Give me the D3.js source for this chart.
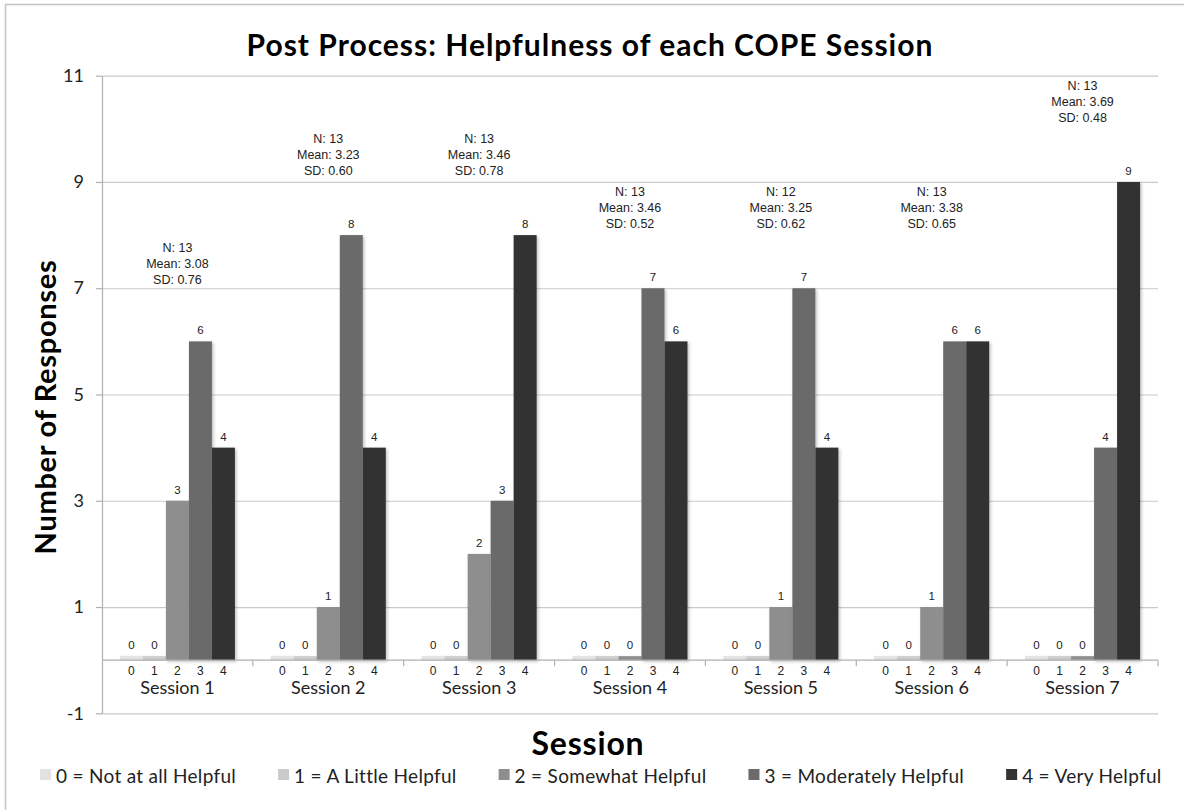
<!DOCTYPE html>
<html>
<head>
<meta charset="utf-8">
<script src="https://cdn.jsdelivr.net/npm/d3@7"></script>
<style>
  body { margin: 0; background: #fff; }
  svg { display: block; }
</style>
</head>
<body>
<div id="viz"></div>
<script>
var w = 1184;
var h = 810;

// data
var sessions = ["Session 1", "Session 2", "Session 3", "Session 4", "Session 5", "Session 6", "Session 7"];
var levels = ["0", "1", "2", "3", "4"];
var levelNames = ["0 = Not at all Helpful", "1 = A Little Helpful", "2 = Somewhat Helpful", "3 = Moderately Helpful", "4 = Very Helpful"];
var counts = [
  [0, 0, 3, 6, 4],
  [0, 0, 1, 8, 4],
  [0, 0, 2, 3, 8],
  [0, 0, 0, 7, 6],
  [0, 0, 1, 7, 4],
  [0, 0, 1, 6, 6],
  [0, 0, 0, 4, 9]
];
var nResp = [13, 13, 13, 13, 12, 13, 13];
var means = ["3.08", "3.23", "3.46", "3.46", "3.25", "3.38", "3.69"];
var sds = ["0.76", "0.60", "0.78", "0.52", "0.62", "0.65", "0.48"];
// value level where the stats box sits (bottom line)
var statLevel = [7.15, 9.2, 9.2, 8.2, 8.2, 8.2, 10.2];
var yTicks = [-1, 1, 3, 5, 7, 9, 11];

var colors = ["#e2e2e2", "#cbcbcb", "#8e8e8e", "#6b6b6b", "#333333"];

var calibri = "Lato, 'Open Sans', sans-serif";
var helv = "'Liberation Sans', Arial, sans-serif";

var mLeft = 102, mRight = 1158, mTop = 75.7, mBottom = 713.3;

var svg = d3.select("#viz")
    .append("svg")
    .attr("width", w)
    .attr("height", h);

var defs = svg.append("defs");
var f = defs.append("filter").attr("id", "shadow")
    .attr("x", "-20%").attr("y", "-5%").attr("width", "150%").attr("height", "120%");
f.append("feDropShadow").attr("dx", 1.5).attr("dy", 1.5)
    .attr("stdDeviation", 1.5).attr("flood-color", "#000").attr("flood-opacity", 0.25);

// outer frame
svg.append("rect")
    .attr("x", 5.5).attr("y", 4.5)
    .attr("width", 1185).attr("height", 830)
    .attr("fill", "none").attr("stroke", "#c4c4c4").attr("stroke-width", 1.5);

var x0 = d3.scaleBand().domain(sessions).range([mLeft, mRight]);
var x1 = d3.scaleBand().domain(levels).range([0, x0.bandwidth()]).paddingOuter(0.78);
var y = d3.scaleLinear().domain([-1, 11]).range([mBottom, mTop]);

// gridlines
svg.append("g")
    .attr("transform", "translate(" + mLeft + ",0)")
    .call(d3.axisLeft(y).tickValues(yTicks).tickSize(-(mRight - mLeft)).tickFormat(""))
    .call(function(g) {
      g.select(".domain").remove();
      g.selectAll("line").attr("stroke", "#cacaca").attr("stroke-width", 1.2);
    });

// y axis
svg.append("g")
    .attr("transform", "translate(" + mLeft + ",0)")
    .call(d3.axisLeft(y).tickValues(yTicks).tickFormat(String).tickSize(6).tickSizeOuter(0).tickPadding(12))
    .call(function(g) {
      g.select(".domain").attr("stroke", "#b0b0b0").attr("stroke-width", 1.2);
      g.selectAll("line").attr("stroke", "#b0b0b0").attr("stroke-width", 1.2);
      g.selectAll("text").attr("font-family", calibri).attr("font-size", 18).attr("fill", "#222");
    });

// bars
var groups = svg.append("g").selectAll("g")
    .data(counts)
    .enter()
    .append("g")
    .attr("transform", function(d, i) { return "translate(" + x0(sessions[i]) + ",0)"; });

groups.selectAll("rect")
    .data(function(d) { return d; })
    .enter()
    .append("rect")
    .attr("x", function(d, i) { return x1(levels[i]); })
    .attr("width", x1.bandwidth())
    .attr("y", function(d) { return Math.min(y(d), y(0) - 4); })
    .attr("height", function(d) { return Math.max(y(0) - y(d), 4); })
    .attr("fill", function(d, i) { return colors[i]; })
    .attr("filter", "url(#shadow)");

// value labels
groups.selectAll("text.val")
    .data(function(d) { return d; })
    .enter()
    .append("text")
    .attr("class", "val")
    .attr("x", function(d, i) { return x1(levels[i]) + x1.bandwidth() / 2; })
    .attr("y", function(d) { return Math.min(y(d), y(0) - 4) - 7; })
    .attr("text-anchor", "middle")
    .attr("font-family", helv).attr("font-size", 11.5).attr("fill", "#222")
    .text(function(d) { return d; });

// level labels under the axis
groups.selectAll("text.lvl")
    .data(levels)
    .enter()
    .append("text")
    .attr("class", "lvl")
    .attr("x", function(d) { return x1(d) + x1.bandwidth() / 2; })
    .attr("y", y(0) + 15)
    .attr("text-anchor", "middle")
    .attr("font-family", helv).attr("font-size", 12).attr("fill", "#222")
    .text(function(d) { return d; });

groups.append("text")
    .attr("x", x0.bandwidth() / 2)
    .attr("y", y(0) + 34)
    .attr("text-anchor", "middle")
    .attr("font-family", calibri).attr("font-size", 18).attr("fill", "#222")
    .text(function(d, i) { return sessions[i]; });

// stats
groups.each(function(d, i) {
  var t = d3.select(this).append("text")
      .attr("text-anchor", "middle")
      .attr("font-family", helv).attr("font-size", 12.5).attr("fill", "#222");
  var lines = ["N: " + nResp[i], "Mean: " + means[i], "SD: " + sds[i]];
  lines.forEach(function(s, k) {
    t.append("tspan")
        .attr("x", x0.bandwidth() / 2)
        .attr("y", y(statLevel[i]) - (2 - k) * 16 + 4)
        .text(s);
  });
});

// x axis line at 0 with ticks between sessions
svg.append("line")
    .attr("x1", mLeft).attr("x2", mRight)
    .attr("y1", y(0)).attr("y2", y(0))
    .attr("stroke", "#b0b0b0").attr("stroke-width", 1.2);

svg.append("g").selectAll("line")
    .data(sessions.slice(1).concat(["end"]))
    .enter()
    .append("line")
    .attr("x1", function(d) { return d === "end" ? mRight : x0(d); })
    .attr("x2", function(d) { return d === "end" ? mRight : x0(d); })
    .attr("y1", y(0)).attr("y2", y(0) + 6)
    .attr("stroke", "#b0b0b0").attr("stroke-width", 1.2);

// title
svg.append("text")
    .attr("x", 590).attr("y", 56)
    .attr("text-anchor", "middle")
    .attr("font-family", calibri).attr("font-weight", "bold").attr("font-size", 30)
    .attr("letter-spacing", 1)
    .attr("fill", "#000")
    .text("Post Process: Helpfulness of each COPE Session");

// axis titles
svg.append("text")
    .attr("transform", "translate(56,407) rotate(-90)")
    .attr("text-anchor", "middle")
    .attr("font-family", calibri).attr("font-weight", "bold").attr("font-size", 29)
    .attr("letter-spacing", 0.7)
    .attr("fill", "#000")
    .text("Number of Responses");

svg.append("text")
    .attr("x", 588).attr("y", 755)
    .attr("text-anchor", "middle")
    .attr("font-family", calibri).attr("font-weight", "bold").attr("font-size", 32)
    .attr("letter-spacing", 0.8)
    .attr("fill", "#000")
    .text("Session");

// legend
var legend = svg.append("g");
var lx = 40;
levelNames.forEach(function(name, i) {
  legend.append("rect")
      .attr("x", lx).attr("y", 769)
      .attr("width", 11).attr("height", 11)
      .attr("fill", colors[i]);
  var t = legend.append("text")
      .attr("x", lx + 16).attr("y", 783)
      .attr("font-family", calibri).attr("font-size", 19).attr("letter-spacing", 0.3)
      .attr("fill", "#222")
      .text(name);
  lx += 16 + t.node().getComputedTextLength() + 42;
});
</script>
</body>
</html>
